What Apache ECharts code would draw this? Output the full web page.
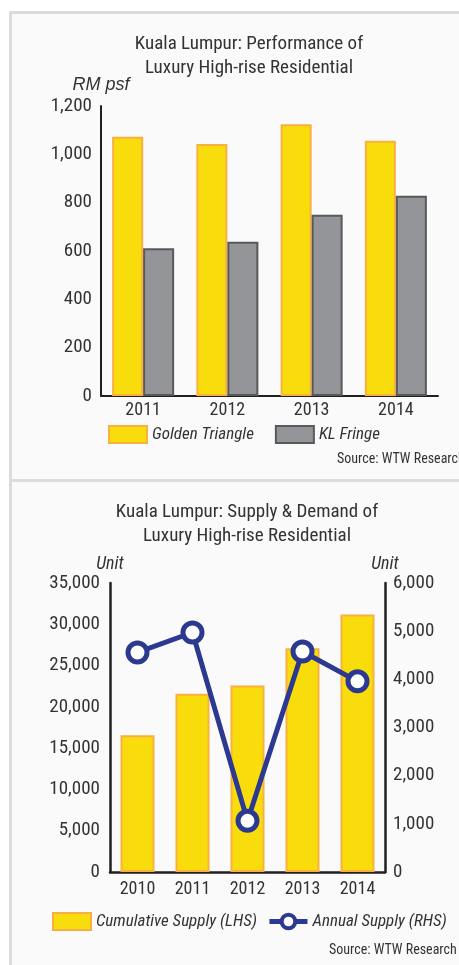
<!DOCTYPE html>
<html>
<head>
<meta charset="utf-8">
<script src="https://cdn.jsdelivr.net/npm/echarts@6/dist/echarts.min.js"></script>
<style>
  html, body { margin: 0; padding: 0; background: #ffffff; }
  .panel { position: absolute; left: 9px; width: 450px; background: #fafafa;
           border-left: 3px solid #dcdcdc; border-top: 3px solid #dcdcdc; box-sizing: border-box; }
  .chart { position: absolute; left: 0; width: 459px; }
</style>
</head>
<body>
<div class="panel" style="top:11px;height:469px;"></div>
<div class="panel" style="top:479px;height:486px;"></div>
<div id="perf" class="chart" style="top:0;height:480px;"></div>
<div id="supply" class="chart" style="top:480px;height:485px;"></div>
<script>
var FONT = "'Roboto Condensed', 'Open Sans', sans-serif";
var TXT = '#333333';
var NAVY = '#2b3990';

// chart 1 data
var perfYears = ['2011', '2012', '2013', '2014'];
var goldenTriangle = [1073, 1043, 1125, 1056];
var klFringe = [611, 638, 750, 829];

// chart 2 data
var supplyYears = ['2010', '2011', '2012', '2013', '2014'];
var cumulativeSupply = [16550, 21600, 22600, 27100, 31200];
var annualSupply = [4558, 4972, 1062, 4579, 3958];

function fmt(v) { return v.toLocaleString('en-US'); }

(function () {
    var chart = echarts.init(document.getElementById('perf'));
    var option = {
        backgroundColor: 'transparent',
        animation: false,
        title: {
            text: 'Kuala Lumpur: Performance of\nLuxury High-rise Residential',
            left: 249, top: 32, padding: 0, textAlign: 'center',
            textStyle: {fontFamily: FONT, fontSize: 19, fontWeight: 'normal', color: TXT, lineHeight: 24}
        },
        legend: {
            left: 108, top: 425, padding: 0, width: 345,
            itemWidth: 38, itemHeight: 17, itemGap: 21, icon: 'rect',
            textStyle: {fontFamily: FONT, fontSize: 17, fontStyle: 'italic', color: TXT},
            data: ['Golden Triangle', 'KL Fringe']
        },
        graphic: [{
            type: 'text', left: 337, top: 452,
            style: {text: 'Source: WTW Research', fontFamily: FONT, fontSize: 14, fill: TXT}
        }],
        grid: {left: 101, right: 21, top: 106, bottom: 84},
        xAxis: {
            type: 'category', data: perfYears,
            axisLine: {lineStyle: {color: '#231f20', width: 2}},
            axisTick: {show: false},
            axisLabel: {fontFamily: FONT, fontSize: 18, color: TXT, margin: 5}
        },
        yAxis: {
            type: 'value', min: 0, max: 1200, interval: 200,
            name: 'RM psf', nameLocation: 'end', nameGap: 12,
            nameTextStyle: {fontFamily: 'Liberation Sans, sans-serif', fontSize: 18, fontStyle: 'italic', color: TXT},
            axisLine: {show: true, lineStyle: {color: '#231f20', width: 2}},
            axisTick: {show: false},
            splitLine: {show: false},
            axisLabel: {fontFamily: FONT, fontSize: 19, color: TXT, margin: 9, formatter: fmt}
        },
        series: [
            {
                name: 'Golden Triangle', type: 'bar', data: goldenTriangle,
                barWidth: 31, barGap: '0%',
                itemStyle: {color: '#f9dc0b', borderColor: '#f8b041', borderWidth: 2}
            },
            {
                name: 'KL Fringe', type: 'bar', data: klFringe,
                barWidth: 31, barGap: '0%',
                itemStyle: {color: '#939598', borderColor: '#58595b', borderWidth: 2}
            }
        ]
    };
    chart.setOption(option);
})();

(function () {
    var chart = echarts.init(document.getElementById('supply'));
    var option = {
        backgroundColor: 'transparent',
        animation: false,
        title: {
            text: 'Kuala Lumpur: Supply & Demand of\nLuxury High-rise Residential',
            left: 247, top: 20, padding: 0, textAlign: 'center',
            textStyle: {fontFamily: FONT, fontSize: 19, fontWeight: 'normal', color: TXT, lineHeight: 24}
        },
        legend: {
            left: 52, top: 432, padding: 0, width: 405,
            itemWidth: 38, itemHeight: 17, itemGap: 10,
            textStyle: {fontFamily: FONT, fontSize: 17, fontStyle: 'italic', color: TXT},
            data: [
                {name: 'Cumulative Supply (LHS)', icon: 'rect'},
                {name: 'Annual Supply (RHS)',
                 lineStyle: {color: NAVY, width: 5},
                 itemStyle: {color: '#ffffff', borderColor: NAVY, borderWidth: 4}}
            ]
        },
        graphic: [{
            type: 'text', left: 329, top: 463,
            style: {text: 'Source: WTW Research', fontFamily: FONT, fontSize: 14, fill: TXT}
        }],
        grid: {left: 110, right: 74, top: 103, bottom: 93},
        xAxis: {
            type: 'category', data: supplyYears,
            axisLine: {lineStyle: {color: '#231f20', width: 2.5}},
            axisTick: {show: false},
            axisLabel: {fontFamily: FONT, fontSize: 18, color: TXT, margin: 8}
        },
        yAxis: [
            {
                type: 'value', min: 0, max: 35000, interval: 5000,
                name: 'Unit', nameLocation: 'end', nameGap: 10,
                nameTextStyle: {fontFamily: FONT, fontSize: 18, fontStyle: 'italic', color: TXT},
                axisLine: {show: true, lineStyle: {color: '#231f20', width: 2.5}},
                axisTick: {show: false},
                splitLine: {show: false},
                axisLabel: {fontFamily: FONT, fontSize: 19, color: TXT, margin: 10, formatter: fmt}
            },
            {
                type: 'value', min: 0, max: 6000, interval: 1000, position: 'right',
                name: 'Unit', nameLocation: 'end', nameGap: 10,
                nameTextStyle: {fontFamily: FONT, fontSize: 18, fontStyle: 'italic', color: TXT},
                axisLine: {show: true, lineStyle: {color: '#231f20', width: 2.5}},
                axisTick: {show: false},
                splitLine: {show: false},
                axisLabel: {fontFamily: FONT, fontSize: 19, color: TXT, margin: 8, formatter: fmt}
            }
        ],
        series: [
            {
                name: 'Cumulative Supply (LHS)', type: 'bar', data: cumulativeSupply,
                barWidth: 34,
                itemStyle: {color: '#f9dc0b', borderColor: '#f8b041', borderWidth: 2}
            },
            {
                name: 'Annual Supply (RHS)', type: 'line', yAxisIndex: 1, data: annualSupply,
                symbol: 'circle', symbolSize: 19,
                lineStyle: {color: NAVY, width: 5},
                itemStyle: {color: '#ffffff', borderColor: NAVY, borderWidth: 5}
            }
        ]
    };
    chart.setOption(option);
})();
</script>
</body>
</html>
